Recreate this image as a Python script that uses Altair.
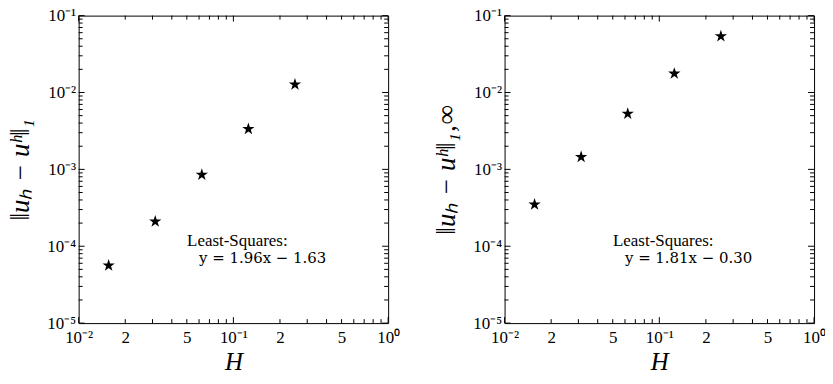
import altair as alt
import pandas as pd

# ---- data ----
H_values = [1/64, 1/32, 1/16, 1/8, 1/4]
err_l1 = [5.6e-5, 2.1e-4, 8.5e-4, 3.35e-3, 1.27e-2]
err_l1inf = [3.5e-4, 1.45e-3, 5.3e-3, 1.76e-2, 5.4e-2]

x_tick_values = [0.01, 0.02, 0.05, 0.1, 0.2, 0.5, 1.0]
x_tick_labels = ["10⁻²", "2", "5", "10⁻¹", "2", "5", "10⁰"]
y_tick_values = [1e-5, 1e-4, 1e-3, 1e-2, 1e-1]
y_tick_labels = ["10⁻⁵", "10⁻⁴", "10⁻³", "10⁻²", "10⁻¹"]

x_major = [0.01, 0.1, 1.0]
x_minor = [0.02, 0.03, 0.04, 0.05, 0.06, 0.07, 0.08, 0.09,
           0.2, 0.3, 0.4, 0.5, 0.6, 0.7, 0.8, 0.9]
y_major = [1e-5, 1e-4, 1e-3, 1e-2, 1e-1]
y_minor = [2e-5, 3e-5, 4e-5, 5e-5, 6e-5, 7e-5, 8e-5, 9e-5,
           2e-4, 3e-4, 4e-4, 5e-4, 6e-4, 7e-4, 8e-4, 9e-4,
           2e-3, 3e-3, 4e-3, 5e-3, 6e-3, 7e-3, 8e-3, 9e-3,
           2e-2, 3e-2, 4e-2, 5e-2, 6e-2, 7e-2, 8e-2, 9e-2]

fit_left = ["Least-Squares:", "y = 1.96x − 1.63"]
fit_right = ["Least-Squares:", "y = 1.81x − 0.30"]

title_left = "‖uₕ − uʰ‖₁"
title_right = "‖uₕ − uʰ‖₁‚∞"

# ---- styling ----
W, HT = 311, 309
FONT = "Liberation Serif"
STAR = ("M0,-1 L0.2245,-0.309 L0.9511,-0.309 L0.3633,0.118 L0.5878,0.809 "
        "L0,0.382 L-0.5878,0.809 L-0.3633,0.118 L-0.9511,-0.309 L-0.2245,-0.309 Z")


def label_expr(values, labels):
    import math
    expr = ""
    for v, l in zip(values, labels):
        expr += "abs(log(datum.value)/LN10 - (%.4f)) < 0.01 ? '%s' : " % (math.log10(v), l)
    return expr + "''"


xscale = alt.Scale(type="log", domain=[0.01, 1.0])
yscale = alt.Scale(type="log", domain=[1e-5, 1e-1])


def xenc(field):
    return alt.X(field, type="quantitative", scale=xscale,
                 axis=alt.Axis(values=x_tick_values,
                               labelExpr=label_expr(x_tick_values, x_tick_labels),
                               title="H", titleFontStyle="italic", titleFontWeight="normal",
                               titleFontSize=25, titleFont=FONT, titleColor="black",
                               titlePadding=5,
                               labelFont=FONT, labelFontSize=17, labelColor="black",
                               labelPadding=6, labelOverlap=False, labelFlush=False,
                               ticks=False, domain=False, grid=False))


def yenc(field, title):
    return alt.Y(field, type="quantitative", scale=yscale,
                 axis=alt.Axis(values=y_tick_values,
                               labelExpr=label_expr(y_tick_values, y_tick_labels),
                               title=title, titleFontStyle="italic", titleFontWeight="normal",
                               titleFontSize=27, titleFont=FONT, titleColor="black",
                               titlePadding=12,
                               labelFont=FONT, labelFontSize=17, labelColor="black",
                               labelPadding=3, labelOverlap=False, labelFlush=False,
                               ticks=False, domain=False, grid=False))


def panel(errs, fit, ytitle):
    layers = []
    pts = pd.DataFrame({"H": H_values, "err": errs})
    layers.append(alt.Chart(pts).mark_point(shape=STAR, filled=True, color="black",
                                            opacity=1, size=170)
                  .encode(x=xenc("H"), y=yenc("err", ytitle)))
    # tick marks pointing inward on all four sides
    for vals, ln in ((x_major, 6), (x_minor, 4)):
        d = pd.DataFrame({"v": vals})
        layers.append(alt.Chart(d).mark_rule(color="black", strokeWidth=1)
                      .encode(x=xenc("v"), y=alt.value(HT), y2=alt.value(HT - ln)))
        layers.append(alt.Chart(d).mark_rule(color="black", strokeWidth=1)
                      .encode(x=xenc("v"), y=alt.value(0), y2=alt.value(ln)))
    for vals, ln in ((y_major, 6), (y_minor, 4)):
        d = pd.DataFrame({"v": vals})
        layers.append(alt.Chart(d).mark_rule(color="black", strokeWidth=1)
                      .encode(y=yenc("v", ytitle), x=alt.value(0), x2=alt.value(ln)))
        layers.append(alt.Chart(d).mark_rule(color="black", strokeWidth=1)
                      .encode(y=yenc("v", ytitle), x=alt.value(W), x2=alt.value(W - ln)))
    t1 = pd.DataFrame({"t": [fit[0]]})
    t2 = pd.DataFrame({"t": [fit[1]]})
    layers.append(alt.Chart(t1).mark_text(align="left", baseline="middle", font=FONT,
                                          fontSize=17, color="black")
                  .encode(text="t:N", x=alt.value(109), y=alt.value(227)))
    layers.append(alt.Chart(t2).mark_text(align="left", baseline="middle", font="DejaVu Serif",
                                          fontSize=15, color="black")
                  .encode(text="t:N", x=alt.value(121), y=alt.value(244)))
    return alt.layer(*layers).properties(width=W, height=HT)


chart = alt.hconcat(panel(err_l1, fit_left, title_left),
                    panel(err_l1inf, fit_right, title_right),
                    spacing=117, bounds="flush").configure_view(
    stroke="black", strokeWidth=1).properties(
    autosize=alt.AutoSizeParams(type="none"),
    padding={"left": 71, "top": 6, "right": 750, "bottom": 360},
    background="white")

chart.save("out.html", embed_options={"renderer": "svg", "actions": False})
